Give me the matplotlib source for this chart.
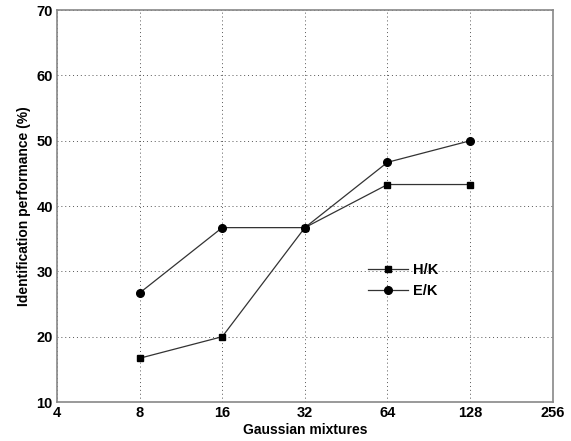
import matplotlib
matplotlib.use('Agg')
import matplotlib.pyplot as plt

plt.rcParams['font.family'] = ['Liberation Sans', 'DejaVu Sans']

# gaussian mixtures vs identification performance
mixtures = [8, 16, 32, 64, 128]
hk = [16.7, 20.0, 36.7, 43.3, 43.3]
ek = [26.7, 36.7, 36.7, 46.7, 50.0]
xticks = [4, 8, 16, 32, 64, 128, 256]
yticks = [10, 20, 30, 40, 50, 60, 70]

fig = plt.figure(figsize=(5.71, 4.41), dpi=100)
ax = fig.add_axes([0.0998, 0.0884, 0.8682, 0.8886])

ax.plot(mixtures, hk, '-s', color='#333333', lw=0.9, ms=4.5,
        mfc='black', mec='black', label='H/K')
ax.plot(mixtures, ek, '-o', color='#333333', lw=0.9, ms=5.5,
        mfc='black', mec='black', label='E/K')

ax.set_xscale('log', base=2)
ax.set_xlim(4, 256)
ax.set_ylim(10, 70)
ax.set_xticks(xticks)
ax.set_xticklabels([str(t) for t in xticks])
ax.set_yticks(yticks)
ax.minorticks_off()
ax.tick_params(direction='in', length=0, labelsize=10.5, pad=3)
for lab in ax.get_xticklabels() + ax.get_yticklabels():
    lab.set_fontweight('bold')

ax.grid(True, linestyle=(0, (1, 3)), color='#555555', lw=0.7)
for s in ax.spines.values():
    s.set_color('#888888')
    s.set_linewidth(1.2)

ax.set_xlabel('Gaussian mixtures', fontsize=10, fontweight='bold', labelpad=2)
ax.set_ylabel('Identification performance (%)', fontsize=10, fontweight='bold', labelpad=4)

leg = ax.legend(loc='center left', bbox_to_anchor=(0.6, 0.31), frameon=False,
                fontsize=10.5, handlelength=2.8, handletextpad=0.3, labelspacing=0.45)
for t in leg.get_texts():
    t.set_fontweight('bold')

fig.savefig('out.png', dpi=100)
